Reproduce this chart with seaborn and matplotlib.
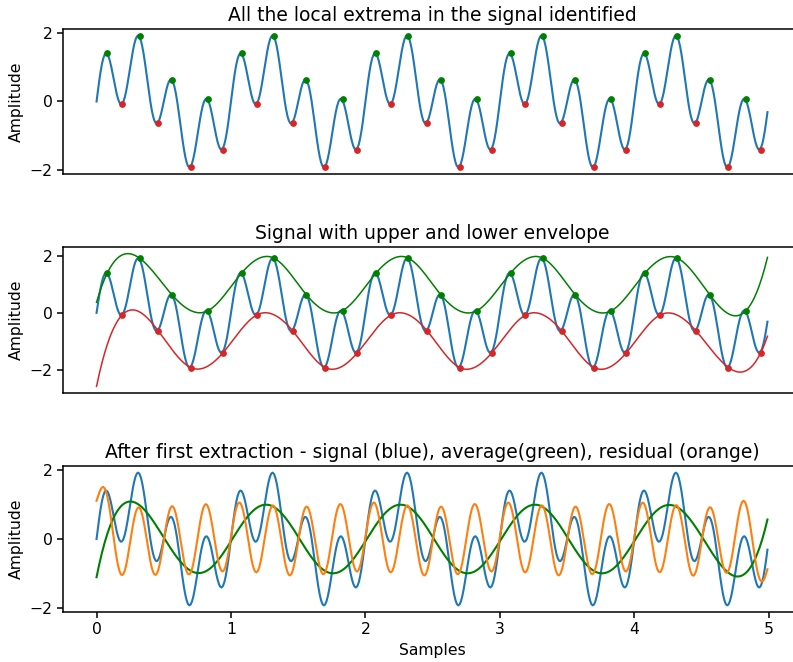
import numpy as np
import pandas as pd
import matplotlib
matplotlib.use("Agg")
import matplotlib.pyplot as plt
import seaborn as sns

# ---- data ----
sample_step = [0.01]          # sampling interval
duration = [5.0]              # seconds of signal (0 .. 4.99)
component_freqs = [1.0, 4.0]  # Hz of the two sinusoids that make up the signal
component_amps = [1.0, 1.0]   # amplitudes of the two sinusoids
extrema_offset = [1]          # extrema are marked one sample after their index

titles = ["All the local extrema in the signal identified",
          "Signal with upper and lower envelope",
          "After first extraction - signal (blue), average(green), residual (orange)"]
ylabel = "Amplitude"
xlabel = "Samples"
yticks = [-2, 0, 2]
xticks = [0, 1, 2, 3, 4, 5]

t = np.arange(0, duration[0], sample_step[0])
signal = np.zeros_like(t)
for f, a in zip(component_freqs, component_amps):
    signal = signal + a * np.sin(2 * np.pi * f * t)

# local extrema
inner = signal[1:-1]
max_idx = np.where((inner > signal[:-2]) & (inner > signal[2:]))[0] + 1
min_idx = np.where((inner < signal[:-2]) & (inner < signal[2:]))[0] + 1
shift = extrema_offset[0] * sample_step[0]
tmax, vmax = t[max_idx] + shift, signal[max_idx]
tmin, vmin = t[min_idx] + shift, signal[min_idx]


def notaknot_spline(xk, yk, x):
    n = len(xk)
    h = np.diff(xk)
    A = np.zeros((n, n))
    b = np.zeros(n)
    A[0, 0] = h[1]; A[0, 1] = -(h[0] + h[1]); A[0, 2] = h[0]
    A[-1, -3] = h[-1]; A[-1, -2] = -(h[-2] + h[-1]); A[-1, -1] = h[-2]
    for i in range(1, n - 1):
        A[i, i - 1] = h[i - 1]
        A[i, i] = 2 * (h[i - 1] + h[i])
        A[i, i + 1] = h[i]
        b[i] = 6 * ((yk[i + 1] - yk[i]) / h[i] - (yk[i] - yk[i - 1]) / h[i - 1])
    M = np.linalg.solve(A, b)
    j = np.clip(np.searchsorted(xk, x) - 1, 0, n - 2)
    hj = h[j]
    x0, x1 = xk[j], xk[j + 1]
    return (M[j] * (x1 - x) ** 3 / (6 * hj) + M[j + 1] * (x - x0) ** 3 / (6 * hj)
            + (yk[j] / hj - M[j] * hj / 6) * (x1 - x)
            + (yk[j + 1] / hj - M[j + 1] * hj / 6) * (x - x0))


upper = notaknot_spline(tmax, vmax, t)
lower = notaknot_spline(tmin, vmin, t)
average = (upper + lower) / 2
residual = signal - average

df = pd.DataFrame({"t": t, "signal": signal, "upper": upper, "lower": lower,
                   "average": average, "residual": residual})
dmax = pd.DataFrame({"t": tmax, "v": vmax})
dmin = pd.DataFrame({"t": tmin, "v": vmin})

plt.rcParams.update({"font.family": ["DejaVu Sans"], "font.size": 11.25,
                     "axes.linewidth": 1.1,
                     "xtick.major.size": 4.0, "ytick.major.size": 4.0,
                     "xtick.major.width": 1.1, "ytick.major.width": 1.1})

C_BLUE = "#1f77b4"
C_GREEN = "green"
C_RED = "#d62728"
C_ORANGE = "#ff7f0e"

fig = plt.figure(figsize=(7.93, 6.62), dpi=100)
W, H = 793, 662
left = 63 / W
right = 801 / W
boxes = [(29, 174), (247, 393), (466, 612)]
axes = []
for top, bot in boxes:
    ax = fig.add_axes([left, 1 - bot / H, right - left, (bot - top) / H])
    axes.append(ax)

ms = 24
LW = 1.5
# panel 1
ax = axes[0]
sns.lineplot(data=df, x="t", y="signal", color=C_BLUE, lw=LW, ax=ax, errorbar=None)
sns.scatterplot(data=dmax, x="t", y="v", color=C_GREEN, s=ms, linewidth=0, ax=ax, zorder=3)
sns.scatterplot(data=dmin, x="t", y="v", color=C_RED, s=ms, linewidth=0, ax=ax, zorder=3)

# panel 2
ax = axes[1]
sns.lineplot(data=df, x="t", y="signal", color=C_BLUE, lw=LW, ax=ax, errorbar=None)
sns.scatterplot(data=dmax, x="t", y="v", color=C_GREEN, s=ms, linewidth=0, ax=ax, zorder=3)
sns.scatterplot(data=dmin, x="t", y="v", color=C_RED, s=ms, linewidth=0, ax=ax, zorder=3)
sns.lineplot(data=df, x="t", y="upper", color=C_GREEN, lw=1.1, ax=ax, errorbar=None)
sns.lineplot(data=df, x="t", y="lower", color=C_RED, lw=1.1, ax=ax, errorbar=None)

# panel 3
ax = axes[2]
sns.lineplot(data=df, x="t", y="signal", color=C_BLUE, lw=LW, ax=ax, errorbar=None)
sns.lineplot(data=df, x="t", y="average", color=C_GREEN, lw=LW, ax=ax, errorbar=None)
sns.lineplot(data=df, x="t", y="residual", color=C_ORANGE, lw=LW, ax=ax, errorbar=None)

for i, ax in enumerate(axes):
    ax.set_title(titles[i], fontsize=13.5)
    ax.set_ylabel(ylabel, fontsize=11.25)
    ax.set_yticks(yticks)
    ax.tick_params(labelsize=11.25)
    ax.margins(x=0.05)
    if i < 2:
        ax.set_xlabel("")
        ax.tick_params(axis="x", bottom=False, labelbottom=False)
    else:
        ax.set_xlabel(xlabel, fontsize=11.25)
        ax.set_xticks(xticks)

fig.savefig("out.png", dpi=100)
